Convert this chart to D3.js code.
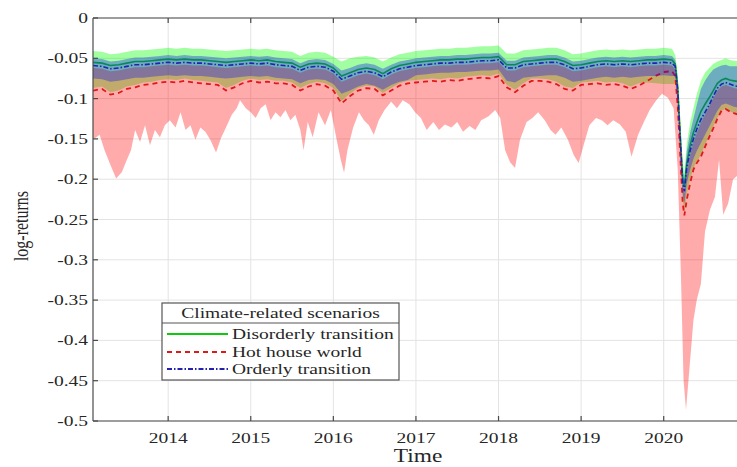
<!DOCTYPE html>
<html><head><meta charset="utf-8">
<script src="https://cdn.jsdelivr.net/npm/d3@7"></script>
<style>body{margin:0;background:#fff}svg{display:block}</style>
</head><body><svg id="c" width="737" height="467"></svg>
<script>
// ---- data (decimal years, log-returns) ----
const dates = [2013.09,2013.2,2013.3,2013.4,2013.5,2013.6,2013.7,2013.8,2013.9,2014.0,
2014.1,2014.2,2014.3,2014.4,2014.5,2014.6,2014.7,2014.8,2014.9,2015.0,
2015.1,2015.2,2015.3,2015.4,2015.5,2015.6,2015.7,2015.8,2015.9,2016.0,
2016.1,2016.2,2016.3,2016.4,2016.5,2016.6,2016.7,2016.8,2016.9,2017.0,
2017.1,2017.2,2017.3,2017.4,2017.5,2017.6,2017.7,2017.8,2017.9,2018.0,
2018.1,2018.2,2018.3,2018.4,2018.5,2018.6,2018.7,2018.8,2018.9,2019.0,
2019.1,2019.2,2019.3,2019.4,2019.5,2019.6,2019.7,2019.8,2019.9,2020.0,
2020.1,2020.14,2020.17,2020.2,2020.23,2020.25,2020.28,2020.32,2020.36,2020.4,2020.45,2020.5,2020.55,2020.6,2020.65,2020.7,2020.75,2020.8,2020.85,2020.96];

// Disorderly transition
const disorderly = [-0.055,-0.056,-0.059,-0.058,-0.056,-0.054,-0.054,-0.053,-0.052,-0.051,
-0.052,-0.051,-0.052,-0.052,-0.053,-0.054,-0.055,-0.054,-0.053,-0.052,
-0.053,-0.052,-0.054,-0.055,-0.056,-0.061,-0.057,-0.056,-0.057,-0.062,
-0.072,-0.068,-0.064,-0.062,-0.064,-0.069,-0.063,-0.059,-0.057,-0.055,
-0.054,-0.053,-0.052,-0.052,-0.051,-0.051,-0.050,-0.049,-0.049,-0.048,
-0.058,-0.058,-0.054,-0.053,-0.052,-0.051,-0.051,-0.054,-0.059,-0.058,
-0.056,-0.054,-0.053,-0.054,-0.053,-0.054,-0.053,-0.052,-0.052,-0.051,
-0.052,-0.057,-0.086,-0.145,-0.200,-0.210,-0.180,-0.158,-0.142,-0.130,-0.116,-0.107,-0.099,-0.090,-0.081,-0.077,-0.075,-0.077,-0.078,-0.080];
const disorderlyUpper = [-0.041,-0.042,-0.045,-0.044,-0.042,-0.040,-0.040,-0.039,-0.038,-0.037,
-0.038,-0.037,-0.038,-0.038,-0.039,-0.040,-0.041,-0.040,-0.039,-0.038,
-0.039,-0.038,-0.040,-0.041,-0.042,-0.047,-0.043,-0.042,-0.043,-0.048,
-0.054,-0.050,-0.048,-0.047,-0.049,-0.054,-0.049,-0.045,-0.043,-0.041,
-0.040,-0.039,-0.038,-0.038,-0.037,-0.037,-0.036,-0.035,-0.035,-0.034,
-0.044,-0.044,-0.040,-0.039,-0.038,-0.037,-0.037,-0.040,-0.045,-0.044,
-0.042,-0.040,-0.039,-0.040,-0.039,-0.040,-0.039,-0.038,-0.038,-0.037,
-0.038,-0.046,-0.070,-0.125,-0.180,-0.190,-0.155,-0.130,-0.112,-0.095,-0.078,-0.068,-0.062,-0.057,-0.054,-0.052,-0.050,-0.052,-0.053,-0.053];
const disorderlyLower = [-0.087,-0.085,-0.092,-0.090,-0.085,-0.083,-0.080,-0.079,-0.077,-0.076,
-0.077,-0.075,-0.077,-0.078,-0.079,-0.080,-0.087,-0.083,-0.078,-0.075,
-0.077,-0.076,-0.078,-0.078,-0.080,-0.087,-0.082,-0.079,-0.081,-0.087,
-0.103,-0.094,-0.087,-0.084,-0.085,-0.093,-0.087,-0.081,-0.078,-0.077,
-0.076,-0.075,-0.076,-0.074,-0.075,-0.073,-0.072,-0.071,-0.072,-0.069,
-0.083,-0.089,-0.081,-0.075,-0.075,-0.076,-0.079,-0.085,-0.087,-0.080,
-0.079,-0.078,-0.080,-0.079,-0.081,-0.085,-0.081,-0.080,-0.081,-0.082,
-0.082,-0.082,-0.108,-0.168,-0.226,-0.240,-0.218,-0.200,-0.186,-0.178,-0.170,-0.158,-0.146,-0.135,-0.124,-0.115,-0.113,-0.116,-0.118,-0.122];

// Hot house world
const hotHouse = [-0.090,-0.088,-0.095,-0.093,-0.088,-0.086,-0.083,-0.082,-0.080,-0.079,
-0.080,-0.078,-0.080,-0.081,-0.082,-0.083,-0.090,-0.086,-0.081,-0.078,
-0.080,-0.079,-0.081,-0.081,-0.083,-0.090,-0.085,-0.082,-0.084,-0.090,
-0.106,-0.097,-0.090,-0.087,-0.088,-0.096,-0.090,-0.084,-0.081,-0.080,
-0.079,-0.078,-0.079,-0.077,-0.078,-0.076,-0.075,-0.074,-0.075,-0.072,
-0.086,-0.092,-0.084,-0.078,-0.078,-0.079,-0.082,-0.088,-0.090,-0.083,
-0.082,-0.081,-0.083,-0.082,-0.084,-0.088,-0.084,-0.078,-0.072,-0.067,
-0.066,-0.072,-0.110,-0.170,-0.230,-0.245,-0.225,-0.205,-0.188,-0.180,-0.172,-0.160,-0.148,-0.137,-0.125,-0.115,-0.113,-0.116,-0.118,-0.122];
const hotHouseUpper = [-0.062,-0.063,-0.066,-0.065,-0.063,-0.061,-0.061,-0.060,-0.059,-0.058,
-0.059,-0.058,-0.059,-0.059,-0.060,-0.061,-0.062,-0.061,-0.060,-0.059,
-0.060,-0.059,-0.061,-0.062,-0.063,-0.068,-0.064,-0.063,-0.064,-0.069,
-0.079,-0.075,-0.071,-0.069,-0.071,-0.076,-0.070,-0.066,-0.064,-0.062,
-0.061,-0.060,-0.059,-0.059,-0.058,-0.058,-0.057,-0.056,-0.056,-0.055,
-0.065,-0.065,-0.061,-0.060,-0.059,-0.058,-0.058,-0.061,-0.066,-0.065,
-0.063,-0.061,-0.060,-0.061,-0.060,-0.061,-0.060,-0.059,-0.059,-0.058,
-0.059,-0.064,-0.094,-0.153,-0.208,-0.218,-0.190,-0.170,-0.155,-0.143,-0.130,-0.120,-0.110,-0.100,-0.090,-0.085,-0.083,-0.085,-0.087,-0.089];
const hotHouseLowerDates = [2013.09,2013.17,2013.23,2013.30,2013.37,2013.44,2013.50,2013.55,2013.60,2013.66,2013.72,2013.78,2013.84,2013.90,2013.96,
2014.02,2014.09,2014.15,2014.21,2014.27,2014.33,2014.39,2014.45,2014.51,2014.58,2014.64,2014.70,2014.77,2014.83,2014.87,2014.94,
2015.00,2015.06,2015.12,2015.18,2015.24,2015.30,2015.36,2015.42,2015.48,2015.54,2015.60,2015.64,2015.69,2015.75,2015.82,2015.90,2015.97,
2016.04,2016.09,2016.13,2016.17,2016.24,2016.31,2016.37,2016.43,2016.49,2016.55,2016.62,2016.70,2016.77,2016.84,2016.92,2016.99,
2017.06,2017.13,2017.21,2017.28,2017.35,2017.43,2017.50,2017.57,2017.65,2017.72,2017.79,2017.88,2017.96,
2018.02,2018.08,2018.14,2018.20,2018.26,2018.34,2018.41,2018.48,2018.56,2018.63,2018.69,2018.76,2018.84,2018.91,2018.97,
2019.03,2019.10,2019.18,2019.25,2019.32,2019.39,2019.47,2019.54,2019.61,2019.69,2019.76,2019.83,2019.91,2019.98,
2020.05,2020.12,2020.17,2020.21,2020.24,2020.27,2020.31,2020.36,2020.40,2020.45,2020.50,2020.56,2020.62,2020.67,2020.72,2020.78,2020.84,2020.96];
const hotHouseLower = [-0.151,-0.145,-0.164,-0.182,-0.199,-0.191,-0.176,-0.164,-0.139,-0.154,-0.133,-0.158,-0.139,-0.148,-0.133,
-0.127,-0.136,-0.117,-0.139,-0.133,-0.151,-0.136,-0.141,-0.151,-0.167,-0.149,-0.136,-0.120,-0.112,-0.102,-0.112,
-0.117,-0.124,-0.112,-0.107,-0.127,-0.117,-0.123,-0.114,-0.127,-0.120,-0.139,-0.164,-0.129,-0.148,-0.117,-0.133,-0.114,
-0.151,-0.176,-0.192,-0.164,-0.136,-0.117,-0.127,-0.133,-0.145,-0.127,-0.114,-0.104,-0.112,-0.102,-0.107,-0.117,
-0.124,-0.139,-0.129,-0.139,-0.132,-0.136,-0.129,-0.141,-0.134,-0.139,-0.127,-0.122,-0.114,
-0.124,-0.164,-0.179,-0.186,-0.151,-0.129,-0.124,-0.117,-0.127,-0.139,-0.145,-0.136,-0.151,-0.170,-0.180,
-0.158,-0.133,-0.124,-0.127,-0.133,-0.127,-0.132,-0.141,-0.172,-0.145,-0.129,-0.114,-0.102,-0.094,
-0.099,-0.112,-0.189,-0.325,-0.449,-0.486,-0.437,-0.375,-0.350,-0.330,-0.265,-0.238,-0.222,-0.176,-0.244,-0.230,-0.200,-0.190];

// Orderly transition
const orderly = [-0.059,-0.060,-0.063,-0.062,-0.060,-0.058,-0.058,-0.057,-0.056,-0.055,
-0.056,-0.055,-0.056,-0.056,-0.057,-0.058,-0.059,-0.058,-0.057,-0.056,
-0.057,-0.056,-0.058,-0.059,-0.060,-0.065,-0.061,-0.060,-0.061,-0.066,
-0.076,-0.072,-0.068,-0.066,-0.068,-0.073,-0.067,-0.063,-0.061,-0.059,
-0.058,-0.057,-0.056,-0.056,-0.055,-0.055,-0.054,-0.053,-0.053,-0.052,
-0.062,-0.062,-0.058,-0.057,-0.056,-0.055,-0.055,-0.058,-0.063,-0.062,
-0.060,-0.058,-0.057,-0.058,-0.057,-0.058,-0.057,-0.056,-0.056,-0.055,
-0.056,-0.060,-0.090,-0.150,-0.205,-0.215,-0.185,-0.165,-0.150,-0.138,-0.126,-0.117,-0.108,-0.097,-0.087,-0.082,-0.080,-0.082,-0.084,-0.086];
const orderlyUpper = [-0.050,-0.051,-0.054,-0.053,-0.051,-0.049,-0.049,-0.048,-0.047,-0.046,
-0.047,-0.046,-0.047,-0.047,-0.048,-0.049,-0.050,-0.049,-0.048,-0.047,
-0.048,-0.047,-0.049,-0.050,-0.051,-0.056,-0.052,-0.051,-0.052,-0.057,
-0.065,-0.062,-0.058,-0.056,-0.058,-0.063,-0.058,-0.054,-0.052,-0.050,
-0.049,-0.048,-0.047,-0.047,-0.046,-0.046,-0.045,-0.044,-0.044,-0.043,
-0.053,-0.053,-0.049,-0.048,-0.047,-0.046,-0.046,-0.049,-0.054,-0.053,
-0.051,-0.049,-0.048,-0.049,-0.048,-0.049,-0.048,-0.047,-0.047,-0.046,
-0.047,-0.052,-0.078,-0.135,-0.190,-0.200,-0.165,-0.142,-0.125,-0.108,-0.088,-0.078,-0.070,-0.064,-0.061,-0.059,-0.058,-0.060,-0.060,-0.060];
const orderlyLower = [-0.075,-0.076,-0.079,-0.078,-0.076,-0.074,-0.074,-0.073,-0.072,-0.071,
-0.072,-0.071,-0.072,-0.072,-0.073,-0.074,-0.075,-0.074,-0.073,-0.072,
-0.073,-0.072,-0.074,-0.075,-0.076,-0.081,-0.077,-0.076,-0.077,-0.082,
-0.094,-0.090,-0.085,-0.082,-0.084,-0.089,-0.083,-0.079,-0.077,-0.071,
-0.070,-0.069,-0.068,-0.068,-0.067,-0.067,-0.066,-0.065,-0.065,-0.064,
-0.078,-0.080,-0.074,-0.073,-0.072,-0.071,-0.071,-0.074,-0.079,-0.078,
-0.076,-0.074,-0.073,-0.074,-0.073,-0.074,-0.073,-0.072,-0.072,-0.071,
-0.072,-0.072,-0.102,-0.162,-0.218,-0.230,-0.205,-0.188,-0.175,-0.165,-0.155,-0.145,-0.135,-0.125,-0.115,-0.108,-0.106,-0.108,-0.110,-0.112];

const xTicks = [2014,2015,2016,2017,2018,2019,2020];
const yTicks = [0,-0.05,-0.1,-0.15,-0.2,-0.25,-0.3,-0.35,-0.4,-0.45,-0.5];
const yTickLabels = ["0","-0.05","-0.1","-0.15","-0.2","-0.25","-0.3","-0.35","-0.4","-0.45","-0.5"];
const legendTitle = "Climate-related scenarios";
const scenarioNames = ["Disorderly transition","Hot house world","Orderly transition"];
const xLabel = "Time", yLabel = "log-returns";

// ---- drawing ----
const svg = d3.select("#c");
const L=93, R=743, T=18, B=421;
const FONT = "'Liberation Serif', 'Times New Roman', serif";
const SX = 1.3;
const x = d3.scaleLinear().domain([2013.09, 2020.96]).range([L, R]);
const y = d3.scaleLinear().domain([-0.5, 0]).range([B, T]);

svg.append("defs").append("clipPath").attr("id","clip")
  .append("rect").attr("x",L).attr("y",T).attr("width",R-L).attr("height",B-T);

// grid
const grid = svg.append("g").attr("stroke","#e3e3e3").attr("stroke-width",1);
grid.selectAll("line.v").data(xTicks).join("line").attr("class","v")
  .attr("x1",d=>x(d)).attr("x2",d=>x(d)).attr("y1",T).attr("y2",B);
grid.selectAll("line.h").data(yTicks).join("line").attr("class","h")
  .attr("x1",L).attr("x2",R).attr("y1",d=>y(d)).attr("y2",d=>y(d));

const plot = svg.append("g").attr("clip-path","url(#clip)");
const band = (up, lo) => d3.area().x((d,i)=>x(dates[i])).y0((d,i)=>y(lo[i])).y1((d,i)=>y(up[i]))(dates);
const line = (vals) => d3.line().x((d,i)=>x(dates[i])).y((d,i)=>y(vals[i]))(dates);

const styles = [
  {stroke:"#10c810", dash:null, width:1.6},
  {stroke:"#e01818", dash:"5,4", width:1.8},
  {stroke:"#2222b0", dash:"5,2,1.5,2", width:1.6}
];

// Disorderly
plot.append("path").attr("d", band(disorderlyUpper, disorderlyLower))
  .attr("fill","#00ff00").attr("fill-opacity",0.37);
plot.append("path").attr("d", line(disorderly)).attr("fill","none")
  .attr("stroke",styles[0].stroke).attr("stroke-width",styles[0].width);

// Hot house (upper on main dates, lower on its own dates)
const redPts = dates.map((d,i)=>[x(d), y(hotHouseUpper[i])])
  .concat(hotHouseLowerDates.map((d,i)=>[x(d), y(hotHouseLower[i])]).reverse());
plot.append("path").attr("d", d3.line()(redPts) + "Z")
  .attr("fill","#ff0000").attr("fill-opacity",0.33);
plot.append("path").attr("d", line(hotHouse)).attr("fill","none")
  .attr("stroke",styles[1].stroke).attr("stroke-width",styles[1].width)
  .attr("stroke-dasharray",styles[1].dash);

// Orderly
plot.append("path").attr("d", band(orderlyUpper, orderlyLower))
  .attr("fill","#0000ff").attr("fill-opacity",0.32);
plot.append("path").attr("d", line(orderly)).attr("fill","none")
  .attr("stroke",styles[2].stroke).attr("stroke-width",styles[2].width)
  .attr("stroke-dasharray",styles[2].dash);

// axes frame and ticks
const ax = svg.append("g").attr("stroke","#4a4a4a").attr("stroke-width",1.2).attr("fill","none");
ax.append("line").attr("x1",L).attr("x2",L).attr("y1",T).attr("y2",B);
ax.append("line").attr("x1",L).attr("x2",R).attr("y1",B).attr("y2",B);
ax.append("line").attr("x1",L).attr("x2",R).attr("y1",T).attr("y2",T);
ax.selectAll("line.yt").data(yTicks).join("line").attr("class","yt")
  .attr("x1",L).attr("x2",L+5).attr("y1",d=>y(d)).attr("y2",d=>y(d));
ax.selectAll("line.xt").data(xTicks).join("line").attr("class","xt")
  .attr("x1",d=>x(d)).attr("x2",d=>x(d)).attr("y1",B).attr("y2",B-5);
ax.selectAll("line.xtt").data(xTicks).join("line").attr("class","xtt")
  .attr("x1",d=>x(d)).attr("x2",d=>x(d)).attr("y1",T).attr("y2",T+5);

// tick labels
const txt = svg.append("g").attr("font-family",FONT).attr("fill","#262626");
txt.selectAll("text.yl").data(yTicks).join("text").attr("class","yl")
  .attr("transform",d=>`translate(88,${y(d)+5}) scale(${SX},1)`)
  .attr("text-anchor","end").attr("font-size",15)
  .text((d,i)=>yTickLabels[i]);
txt.selectAll("text.xl").data(xTicks).join("text").attr("class","xl")
  .attr("transform",d=>`translate(${x(d)},443) scale(${SX},1)`)
  .attr("text-anchor","middle").attr("font-size",15)
  .text(d=>String(d));
txt.append("text").attr("transform",`translate(418,462) scale(${SX},1)`)
  .attr("text-anchor","middle").attr("font-size",18).text(xLabel);
txt.append("text").attr("transform",`translate(28,226) rotate(-90) scale(1,${SX})`)
  .attr("text-anchor","middle").attr("font-size",16).text(yLabel);

// legend
const lg = svg.append("g");
lg.append("rect").attr("x",162).attr("y",303).attr("width",237).attr("height",77)
  .attr("fill","#fff").attr("stroke","#555").attr("stroke-width",1.2);
lg.append("line").attr("x1",162).attr("x2",399).attr("y1",323).attr("y2",323)
  .attr("stroke","#555").attr("stroke-width",1.2);
lg.append("text").attr("font-family",FONT).attr("fill","#262626").attr("font-size",15)
  .attr("text-anchor","middle").attr("transform",`translate(280.5,318) scale(${SX},1)`)
  .text(legendTitle);
const rows = [334, 352, 369];
scenarioNames.forEach((name,i)=>{
  lg.append("line").attr("x1",167).attr("x2",228).attr("y1",rows[i]).attr("y2",rows[i])
    .attr("stroke",styles[i].stroke).attr("stroke-width",styles[i].width+0.3)
    .attr("stroke-dasharray",styles[i].dash);
  lg.append("text").attr("font-family",FONT).attr("fill","#262626").attr("font-size",15)
    .attr("transform",`translate(232,${rows[i]+5}) scale(${SX},1)`).text(name);
});
</script></body></html>
